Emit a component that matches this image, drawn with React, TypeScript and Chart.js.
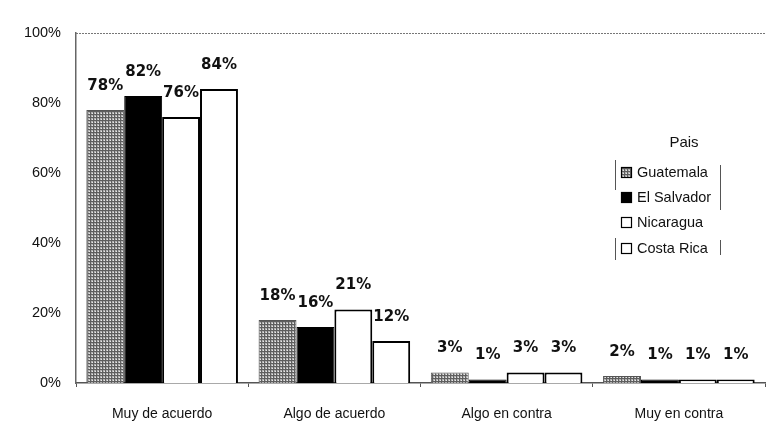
import React, { useEffect, useRef } from "react";
import { Chart, registerables } from "chart.js";

Chart.register(...registerables);

const categories = ["Muy de acuerdo", "Algo de acuerdo", "Algo en contra", "Muy en contra"];
const countries = ["Guatemala", "El Salvador", "Nicaragua", "Costa Rica"];
const guatemala = [78, 18, 3, 2];
const elSalvador = [82, 16, 1, 1];
const nicaragua = [76, 21, 3, 1];
const costaRica = [84, 12, 3, 1];
const yTicks = [0, 20, 40, 60, 80, 100];
const legendTitle = "Pais";

const FONT = "'Liberation Sans Narrow', 'Liberation Sans', Arial, sans-serif";

function makePattern(): CanvasPattern | string {
  const c = document.createElement("canvas");
  c.width = 3;
  c.height = 3;
  const g = c.getContext("2d");
  if (!g) return "#999";
  g.fillStyle = "#b0b0b0";
  g.fillRect(0, 0, 3, 3);
  g.fillStyle = "#5e5e5e";
  g.fillRect(0, 0, 1, 3);
  g.fillRect(0, 0, 3, 1);
  g.fillStyle = "#e8e8e8";
  g.fillRect(2, 2, 1, 1);
  const p = g.createPattern(c, "repeat");
  return p || "#999";
}

export default function App() {
  const ref = useRef<HTMLCanvasElement>(null);
  useEffect(() => {
    document.body.style.margin = "0";
    const canvas = ref.current;
    if (!canvas) return;
    const pattern = makePattern();
    const fills = [pattern, "#000000", "#ffffff", "#ffffff"];
    const series = [guatemala, elSalvador, nicaragua, costaRica];

    const labelPlugin = {
      id: "labels",
      afterDatasetsDraw(chart: any) {
        const ctx = chart.ctx;
        ctx.save();
        ctx.font = "bold 15px 'DejaVu Sans', 'Liberation Sans', Arial, sans-serif";
        ctx.fillStyle = "#111";
        ctx.textAlign = "center";
        ctx.textBaseline = "middle";
        chart.data.datasets.forEach((ds: any, di: number) => {
          const meta = chart.getDatasetMeta(di);
          meta.data.forEach((bar: any, i: number) => {
            const v = ds.data[i];
            ctx.fillText(v + "%", bar.x, bar.y - 24);
          });
        });
        ctx.restore();
      },
    };

    const decoPlugin = {
      id: "deco",
      afterDraw(chart: any) {
        const ctx = chart.ctx;
        const a = chart.chartArea;
        ctx.save();
        // top dotted line
        ctx.strokeStyle = "#777";
        ctx.lineWidth = 1;
        ctx.setLineDash([2, 1]);
        ctx.beginPath();
        ctx.moveTo(a.left, a.top + 0.5);
        ctx.lineTo(a.right, a.top + 0.5);
        ctx.stroke();
        ctx.setLineDash([]);
        // legend
        const lx = 621;
        ctx.font = "15px " + FONT;
        ctx.fillStyle = "#111";
        ctx.textAlign = "center";
        ctx.textBaseline = "middle";
        ctx.fillText(legendTitle, 684, 143);
        ctx.textAlign = "left";
        ctx.font = "14.5px " + FONT;
        const ys = [172, 197, 222, 248];
        countries.forEach((name, i) => {
          const y = ys[i];
          ctx.fillStyle = fills[i] as any;
          ctx.fillRect(lx, y - 5, 11, 11);
          ctx.strokeStyle = "#000";
          ctx.lineWidth = 1.2;
          ctx.strokeRect(lx + 0.5, y - 4.5, 10, 10);
          ctx.fillStyle = "#111";
          ctx.fillText(name, lx + 16, y + 1);
        });
        // legend border fragments
        ctx.strokeStyle = "#555";
        ctx.lineWidth = 1;
        ctx.beginPath();
        ctx.moveTo(615.5, 160);
        ctx.lineTo(615.5, 190);
        ctx.moveTo(615.5, 238);
        ctx.lineTo(615.5, 260);
        ctx.moveTo(720.5, 165);
        ctx.lineTo(720.5, 210);
        ctx.moveTo(720.5, 240);
        ctx.lineTo(720.5, 255);
        ctx.stroke();
        ctx.restore();
      },
    };

    const chart = new Chart(canvas, {
      type: "bar",
      data: {
        labels: categories,
        datasets: countries.map((name, i) => ({
          label: name,
          data: series[i],
          backgroundColor: fills[i] as any,
          borderColor: i === 0 ? "#555" : "#000",
          borderWidth: i >= 2 ? 2 : 1,
          categoryPercentage: 0.88,
          barPercentage: 1,
        })),
      },
      options: {
        responsive: false,
        animation: false,
        devicePixelRatio: 1,
        layout: { padding: { top: 33, right: 9, left: 0, bottom: 0 } },
        plugins: {
          legend: { display: false },
          tooltip: { enabled: false },
        },
        scales: {
          x: {
            grid: {
              display: true,
              drawOnChartArea: false,
              drawTicks: true,
              tickLength: 4,
              offset: true,
              color: "#555",
            },
            border: { color: "#555", width: 1.5 },
            ticks: {
              color: "#111",
              font: { family: FONT, size: 14 },
              padding: 19,
            },
            afterFit: (s: any) => {
              s.height = 57;
            },
          },
          y: {
            min: 0,
            max: 100,
            afterBuildTicks: (s: any) => {
              s.ticks = yTicks.map((v) => ({ value: v }));
            },
            grid: { display: false, drawTicks: false },
            border: { color: "#666", width: 1.5 },
            ticks: {
              color: "#111",
              font: { family: FONT, size: 14.5 },
              padding: 15,
              callback: (v: any) => v + "%",
            },
            afterFit: (s: any) => {
              s.width = 76;
            },
          },
        },
      },
      plugins: [labelPlugin, decoPlugin],
    });
    return () => chart.destroy();
  }, []);
  return (
    <div style={{ width: 774, height: 440, background: "#fff" }}>
      <canvas ref={ref} width={774} height={440} style={{ display: "block" }} />
    </div>
  );
}
